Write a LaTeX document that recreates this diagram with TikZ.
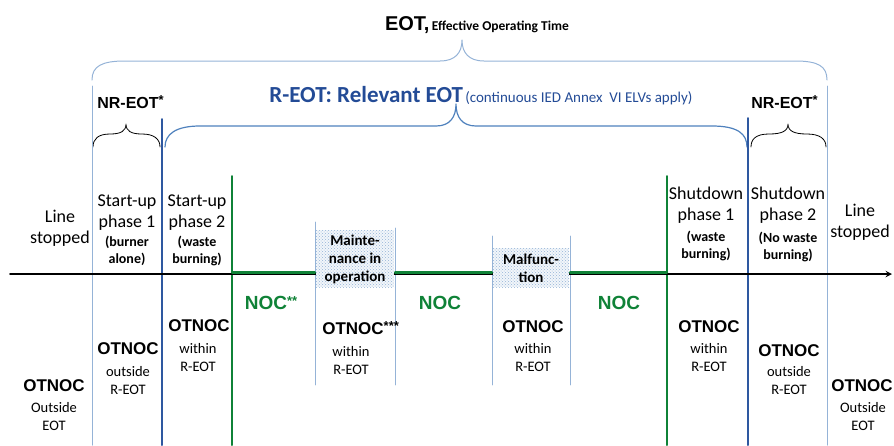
\documentclass[tikz,border=0pt]{standalone}
\usepackage{fontspec}
\setmainfont{Carlito}
\newfontfamily\boldlab{Liberation Sans}
\usetikzlibrary{arrows,patterns}
\definecolor{lblue}{RGB}{149,179,215}
\definecolor{dblue}{RGB}{46,88,160}
\definecolor{mblue}{RGB}{79,129,189}
\definecolor{tblue}{RGB}{35,75,150}
\definecolor{nocgreen}{RGB}{15,130,55}
\newcommand{\stars}[1]{\rlap{\raisebox{0.45ex}{\fontsize{13}{13}\selectfont #1}}}
\tikzset{
  phase/.style={align=center,font=\fontsize{18}{21}\selectfont},
  note/.style={align=center,font=\bfseries\fontsize{14}{16.5}\selectfont},
  otnoc/.style={font=\boldlab\bfseries\fontsize{17}{20}\selectfont},
  within/.style={align=center,font=\fontsize{14.5}{18}\selectfont},
  noc/.style={text=nocgreen,font=\boldlab\bfseries\fontsize{19}{22}\selectfont},
  event/.style={align=center,font=\bfseries\fontsize{15}{18}\selectfont},
  nreot/.style={font=\boldlab\bfseries\fontsize{16}{18}\selectfont}
}
\begin{document}
\begin{tikzpicture}[line cap=round,line join=round,>=stealth,x=1pt,y=-1pt]
\useasboundingbox (0,0) rectangle (894,445);
%braces
\draw[lblue,line width=1pt] (92,80) .. controls (92,66) and (102,61) .. (125,61) -- (440,61) .. controls (455,61) and (462,53) .. (462,40) .. controls (462,53) and (469,61) .. (484,61) -- (795,61) .. controls (818,61) and (827,66) .. (827,80);
\draw[mblue,line width=1.2pt] (165,147) .. controls (165,134) and (176,126) .. (200,126) -- (436,126) .. controls (450,126) and (456,117) .. (456,104) .. controls (456,117) and (462,126) .. (476,126) -- (712,126) .. controls (738,126) and (747,134) .. (747,147);
\draw[line width=0.8pt] (93,147) .. controls (93,139) and (98,134) .. (110,134) .. controls (121,134) and (126,131) .. (126,124) .. controls (126,131) and (131,134) .. (142,134) .. controls (154,134) and (160,139) .. (160,147);
\draw[line width=0.8pt] (751,147) .. controls (751,139) and (756,134) .. (769,134) .. controls (782,134) and (788,131) .. (788,124) .. controls (788,131) and (794,134) .. (807,134) .. controls (820,134) and (826,139) .. (826,147);
%vertical lines
\draw[lblue,line width=1pt] (92,86) -- (92,445);
\draw[dblue,line width=2pt] (162,119) -- (162,445);
\draw[nocgreen,line width=2pt] (232,176) -- (232,445);
\draw[lblue,line width=0.8pt] (315,222) -- (315,385);
\draw[lblue,line width=0.8pt] (395,228) -- (395,385);
\draw[lblue,line width=0.8pt] (492,236) -- (492,385);
\draw[lblue,line width=0.8pt] (570,236) -- (570,385);
\draw[nocgreen,line width=2pt] (667,176) -- (667,445);
\draw[dblue,line width=2pt] (748,118) -- (748,445);
\draw[lblue,line width=1pt] (827,86) -- (827,445);
%time axis
\draw[->,line width=1.8pt] (10,274) -- (892,274);
\draw[nocgreen,line width=2.2pt] (232,272.5) -- (315,272.5);
\draw[nocgreen,line width=2.2pt] (395,272.5) -- (492,272.5);
\draw[nocgreen,line width=2.2pt] (570,272.5) -- (667,272.5);
\fill[lblue!12] (316,230) rectangle (394,287);
\fill[pattern=crosshatch dots,pattern color=lblue] (316,230) rectangle (394,287);
\fill[lblue!12] (493,248) rectangle (569,287);
\fill[pattern=crosshatch dots,pattern color=lblue] (493,248) rectangle (569,287);
%top labels
\draw (477,30) node[anchor=base] (eot) {{\boldlab\bfseries\fontsize{20}{24}\selectfont EOT,} {\bfseries\fontsize{13.5}{15}\selectfont Effective Operating Time}};
\draw (481,102) node[anchor=base,text=tblue] (reot) {{\bfseries\fontsize{23}{26}\selectfont R-EOT: Relevant EOT} {\fontsize{15}{17}\selectfont (continuous IED Annex\ \ VI ELVs apply)}};
\draw (128,108) node[anchor=base,nreot] (nrleft) {NR-EOT\stars{*}};
\draw (782,108) node[anchor=base,nreot] (nrright) {NR-EOT\stars{*}};
%phases
\draw (60,228) node[phase] (stopleft) {Line\\stopped};
\draw (127,213) node[phase] (start1) {Start-up\\phase 1};
\draw (127,251) node[note] (start1n) {(burner\\alone)};
\draw (197,213) node[phase] (start2) {Start-up\\phase 2};
\draw (197,251) node[note] (start2n) {(waste\\burning)};
\draw (355,259) node[event] (maint) {Mainte-\\nance in\\operation};
\draw (531,268) node[event] (malf) {Malfunc-\\tion};
\draw (706,205) node[phase] (shut1) {Shutdown\\phase 1};
\draw (706,246) node[note] (shut1n) {(waste\\burning)};
\draw (788,205) node[phase] (shut2) {Shutdown\\phase 2};
\draw (788,247) node[note] (shut2n) {(No waste\\burning)};
\draw (860,222) node[phase] (stopright) {Line\\stopped};
%below the axis
\draw (266,303) node[noc] (noc1) {NOC\stars{**}};
\draw (440,303) node[noc] (noc2) {NOC};
\draw (619,303) node[noc] (noc3) {NOC};
\draw (54,386) node[otnoc] (ot1) {OTNOC};
\draw (54,417) node[within] (ot1n) {Outside\\EOT};
\draw (128,349) node[otnoc] (ot2) {OTNOC};
\draw (128,381) node[within] (ot2n) {outside\\R-EOT};
\draw (199,326) node[otnoc] (ot3) {OTNOC};
\draw (198,358) node[within] (ot3n) {within\\R-EOT};
\draw (353,328) node[otnoc] (ot4) {OTNOC\stars{***}};
\draw (351,361) node[within] (ot4n) {within\\R-EOT};
\draw (533,327) node[otnoc] (ot5) {OTNOC};
\draw (533,358) node[within] (ot5n) {within\\R-EOT};
\draw (709,327) node[otnoc] (ot6) {OTNOC};
\draw (709,358) node[within] (ot6n) {within\\R-EOT};
\draw (789,351) node[otnoc] (ot7) {OTNOC};
\draw (789,381) node[within] (ot7n) {outside\\R-EOT};
\draw (862,386) node[otnoc] (ot8) {OTNOC};
\draw (863,417) node[within] (ot8n) {Outside\\EOT};
\end{tikzpicture}
\end{document}
